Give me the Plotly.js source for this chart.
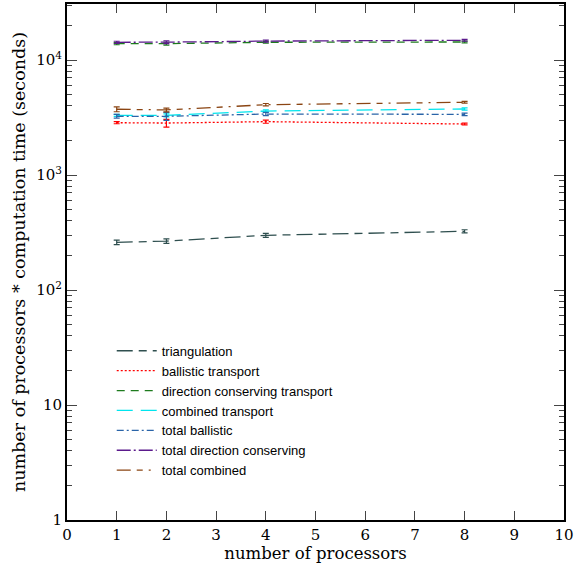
<!DOCTYPE html>
<html>
<head>
<meta charset="utf-8">
<script src="https://cdn.plot.ly/plotly-3.0.1.min.js"></script>
<style>html,body{margin:0;padding:0;background:#fff;}#chart{width:574px;height:566px;}</style>
</head>
<body>
<div id="chart"></div>
<script>
const processors = [1, 2, 4, 8];
const triangulation = [260, 266, 299, 324];
const triangulationErr = [12, 12, 12, 10];
const ballisticTransport = [2850, 2830, 2910, 2775];
const ballisticTransportErr = [60, 220, 90, 50];
const directionTransport = [13870, 13870, 14260, 14350];
const directionTransportErr = [300, 400, 250, 250];
const combinedTransport = [3300, 3300, 3600, 3750];
const combinedTransportErr = [70, 100, 80, 80];
const totalBallistic = [3240, 3240, 3390, 3370];
const totalBallisticErr = [120, 260, 110, 80];
const totalDirection = [14260, 14300, 14600, 14850];
const totalDirectionErr = [300, 400, 300, 250];
const totalCombined = [3730, 3680, 4085, 4290];
const totalCombinedErr = [180, 140, 100, 80];

const seriesNames = ["triangulation", "ballistic transport", "direction conserving transport",
  "combined transport", "total ballistic", "total direction conserving", "total combined"];

function mk(name, y, err, color, dash) {
  return {
    x: processors, y: y, name: name, type: 'scatter', mode: 'lines',
    line: {color: color, width: 1.3, dash: dash},
    error_y: {type: 'data', array: err, visible: true, color: color, thickness: 1.2, width: 3}
  };
}

const data = [
  mk(seriesNames[0], triangulation, triangulationErr, '#2f4f4f', '16px,6px,8px,6px'),
  mk(seriesNames[1], ballisticTransport, ballisticTransportErr, '#ff0000', '2px,2px'),
  mk(seriesNames[2], directionTransport, directionTransportErr, '#1e7b1e', '8px,6px'),
  mk(seriesNames[3], combinedTransport, combinedTransportErr, '#00e5ee', '16px,8px'),
  mk(seriesNames[4], totalBallistic, totalBallisticErr, '#2a64a8', '7px,3px,2px,3px'),
  mk(seriesNames[5], totalDirection, totalDirectionErr, '#5b1a8c', '14px,3px,2px,3px'),
  mk(seriesNames[6], totalCombined, totalCombinedErr, '#8b4513', '14px,6px,6px,6px,2px,6px')
];

const serif = 'DejaVu Serif, serif';
const layout = {
  width: 574, height: 566,
  margin: {l: 67, r: 10, t: 4, b: 46},
  paper_bgcolor: '#fff', plot_bgcolor: '#fff',
  showlegend: true,
  legend: {x: 0.09, y: 0.357, xanchor: 'left', yanchor: 'top', bgcolor: 'rgba(0,0,0,0)',
    font: {family: 'Liberation Sans, Arial, sans-serif', size: 13, color: '#000'},
    tracegroupgap: 0, itemwidth: 40},
  xaxis: {
    range: [0, 10], dtick: 1, tick0: 0, ticks: 'inside', ticklen: 9, tickwidth: 1,
    mirror: 'ticks', showline: true, linewidth: 2, linecolor: '#000', showgrid: false, zeroline: false,
    ticklabeloverflow: 'allow',
    tickfont: {family: serif, size: 15, color: '#000'},
    title: {text: 'number of processors', font: {family: serif, size: 16.5, color: '#000'}, standoff: 2}
  },
  yaxis: {
    type: 'log', range: [0, 4.487],
    tickvals: [1, 10, 100, 1000, 10000],
    ticktext: ['1', '10', '10<sup>2</sup>', '10<sup>3</sup>', '10<sup>4</sup>'],
    ticks: 'inside', ticklen: 10, tickwidth: 1,
    minor: {ticks: 'inside', ticklen: 5, dtick: 'D1', showgrid: false},
    mirror: 'ticks', showline: true, linewidth: 2, linecolor: '#000', showgrid: false, zeroline: false,
    ticklabeloverflow: 'allow',
    tickfont: {family: serif, size: 15, color: '#000'},
    title: {text: 'number of processors * computation time (seconds)', font: {family: serif, size: 17.5, color: '#000'}, standoff: 6}
  }
};

Plotly.newPlot('chart', data, layout, {displayModeBar: false, staticPlot: true});
</script>
</body>
</html>
